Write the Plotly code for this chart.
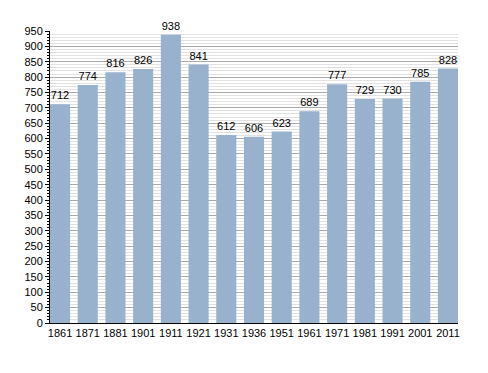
import plotly.graph_objects as go

years = ["1861", "1871", "1881", "1901", "1911", "1921", "1931", "1936",
         "1951", "1961", "1971", "1981", "1991", "2001", "2011"]
population = [712, 774, 816, 826, 938, 841, 612, 606, 623, 689, 777, 729, 730, 785, 828]

gap = 0.275
fig = go.Figure(go.Bar(
    x=years, y=population,
    marker=dict(color="#98b1cc", line=dict(width=0)),
    text=[str(v) for v in population], textposition="outside",
    textfont=dict(family="Liberation Sans, Arial", size=11, color="#000"),
    cliponaxis=False,
))

fig.update_layout(
    width=488, height=373,
    margin=dict(l=42, r=38, t=23, b=58),
    paper_bgcolor="white", plot_bgcolor="white",
    bargap=gap,
    showlegend=False,
    font=dict(family="Liberation Sans, Arial", size=11, color="#000"),
)
half = (1 - gap) / 2
fig.update_xaxes(
    range=[-half, len(years) - 1 + half],
    showline=True, linecolor="#000", linewidth=1,
    ticks="", showgrid=False,
    tickfont=dict(size=11),
)
fig.update_yaxes(
    range=[0, 950], tick0=0, dtick=50,
    showline=True, linecolor="#000", linewidth=1,
    ticks="outside", ticklen=4, tickcolor="#000",
    showgrid=True, gridcolor="#aaaaaa", gridwidth=1,
    minor=dict(dtick=10, ticks="outside", ticklen=2, tickcolor="#000",
               showgrid=True, gridcolor="#e2e2e2", gridwidth=1),
    zeroline=False,
    tickfont=dict(size=11),
)

fig.write_html("out.html")
